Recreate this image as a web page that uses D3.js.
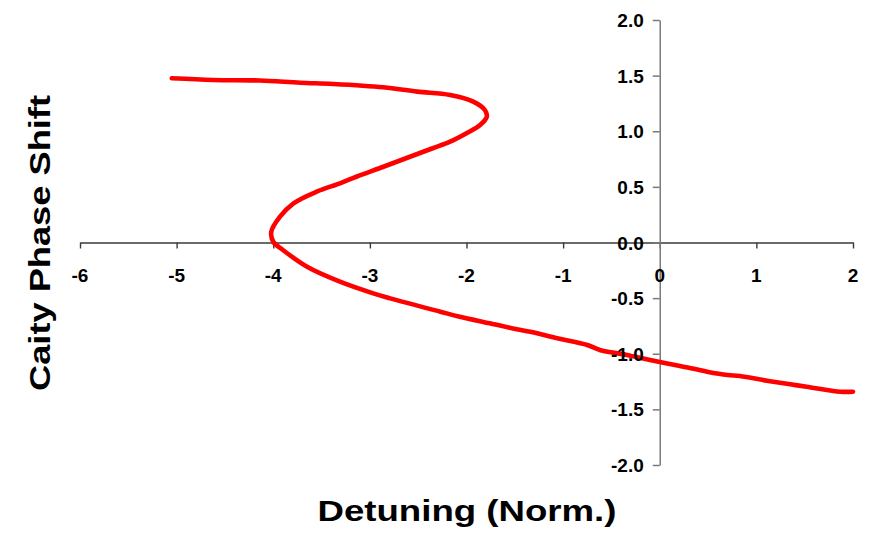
<!DOCTYPE html>
<html>
<head>
<meta charset="utf-8">
<script src="https://cdn.jsdelivr.net/npm/d3@7"></script>
<style>
  html, body { margin: 0; padding: 0; background: #fff; }
  svg { display: block; }
  text { font-family: Arial, "Liberation Sans", sans-serif; font-weight: bold; fill: #000; }
</style>
</head>
<body>
<svg id="chart" width="871" height="538"></svg>
<script>
// Response curve: normalised detuning vs cavity phase shift
const detuning = [
  -5.05, -4.62, -4.14, -3.72, -3.38, -2.86, -2.51, -2.17, -1.93, -1.81,
  -1.79, -1.86, -2.00, -2.17, -2.35, -2.585, -2.86, -3.14, -3.31, -3.55,
  -3.79, -3.93, -4.02, -4.00, -3.90, -3.65, -3.31, -2.965, -2.79, -2.27,
  -2.07, -1.76, -1.48, -1.34, -1.06, -0.75, -0.62, -0.34, -0.10, 0.21,
  0.49, 0.70, 0.83, 1.11, 1.35, 1.52, 1.87, 2.00
];
const phaseShift = [
  1.476, 1.461, 1.456, 1.436, 1.425, 1.395, 1.356, 1.326, 1.266, 1.191,
  1.131, 1.056, 0.982, 0.906, 0.847, 0.771, 0.681, 0.591, 0.532, 0.457,
  0.352, 0.232, 0.097, 0.007, -0.067, -0.218, -0.352, -0.457, -0.502, -0.622,
  -0.667, -0.726, -0.780, -0.802, -0.861, -0.921, -0.966, -1.011, -1.056, -1.110,
  -1.161, -1.191, -1.200, -1.242, -1.275, -1.296, -1.341, -1.341
];

const xTicks = [-6, -5, -4, -3, -2, -1, 0, 1, 2];
const yTicks = [-2.0, -1.5, -1.0, -0.5, 0.0, 0.5, 1.0, 1.5, 2.0];

const xTitle = "Detuning (Norm.)";
const yTitle = "Caity Phase Shift";

const svg = d3.select("#chart");

const x = d3.scaleLinear().domain([-6, 2]).range([80, 853]);
const y = d3.scaleLinear().domain([-2, 2]).range([465, 20]);

// Axes cross at the origin
const xAxisG = svg.append("g").attr("transform", `translate(0,${y(0)})`);
const yAxisG = svg.append("g").attr("transform", `translate(${x(0)},0)`);

xAxisG.call(d3.axisBottom(x).tickValues(xTicks).tickSize(6).tickSizeOuter(0).tickFormat(""));
yAxisG.call(d3.axisLeft(y).tickValues(yTicks).tickSize(7).tickSizeOuter(0).tickFormat(""));

xAxisG.select(".domain").attr("stroke", "#3a3a3a").attr("stroke-width", 1.4);
xAxisG.selectAll(".tick line").attr("stroke", "#3a3a3a").attr("stroke-width", 1.4);
yAxisG.select(".domain").attr("stroke", "#7a7a7a").attr("stroke-width", 1.5);
yAxisG.selectAll(".tick line").attr("stroke", "#7a7a7a").attr("stroke-width", 1.5);

// Curve
const pts = detuning.map((d, i) => [d, phaseShift[i]]);
svg.append("path")
  .datum(pts)
  .attr("fill", "none")
  .attr("stroke", "#ff0000")
  .attr("stroke-width", 4.6)
  .attr("stroke-linejoin", "round")
  .attr("stroke-linecap", "round")
  .attr("d", d3.line().x(d => x(d[0])).y(d => y(d[1])).curve(d3.curveCatmullRom.alpha(0.5)));

// Tick labels above the curve
svg.append("g").selectAll("text")
  .data(xTicks)
  .join("text")
  .attr("x", d => x(d))
  .attr("y", y(0) + 39.5)
  .attr("text-anchor", "middle")
  .attr("font-size", 19)
  .text(d => d3.format("d")(d).replace("−", "-"));

svg.append("g").selectAll("text")
  .data(yTicks)
  .join("text")
  .attr("x", x(0) - 16)
  .attr("y", d => y(d) + 7)
  .attr("text-anchor", "end")
  .attr("font-size", 19)
  .text(d => d3.format(".1f")(d).replace("−", "-"));

// Axis titles
svg.append("text")
  .attr("x", 467)
  .attr("y", 521)
  .attr("text-anchor", "middle")
  .attr("font-size", 29)
  .attr("textLength", 299)
  .attr("lengthAdjust", "spacingAndGlyphs")
  .text(xTitle);

svg.append("text")
  .attr("transform", "translate(50,243) rotate(-90)")
  .attr("text-anchor", "middle")
  .attr("font-size", 29)
  .attr("textLength", 296)
  .attr("lengthAdjust", "spacingAndGlyphs")
  .text(yTitle);
</script>
</body>
</html>
